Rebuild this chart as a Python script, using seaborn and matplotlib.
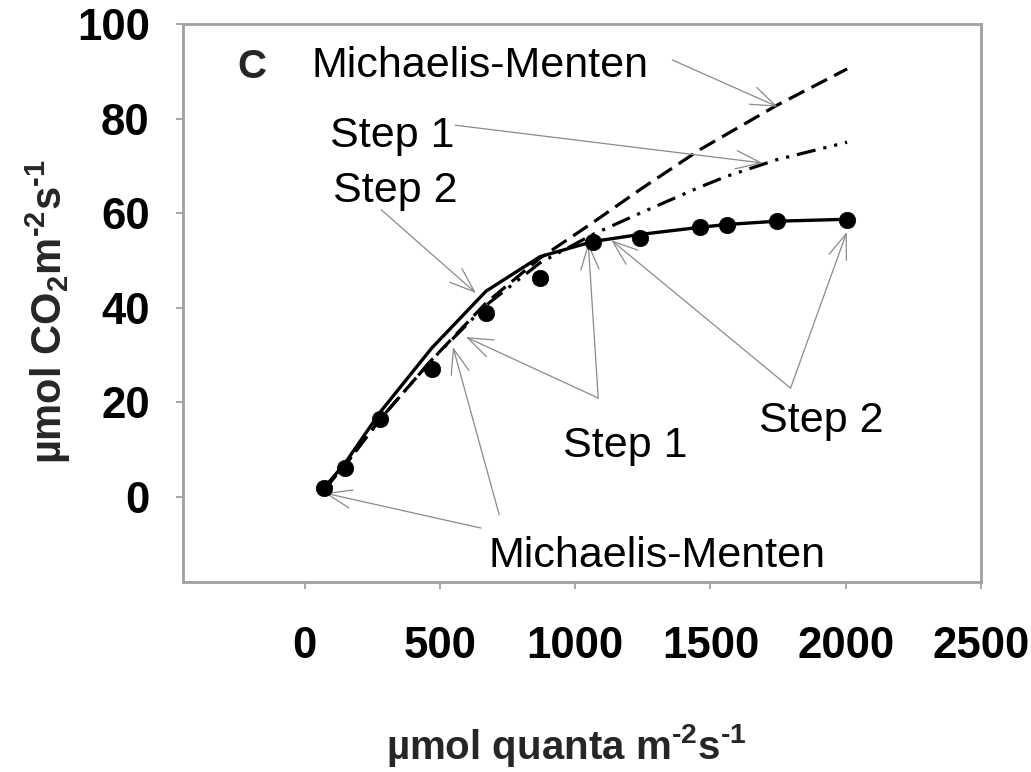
import matplotlib
matplotlib.use("Agg")
import matplotlib.pyplot as plt
import seaborn as sns
import pandas as pd

# ---- data ----
light = [70, 150, 280, 470, 670, 870, 1065, 1240, 1460, 1560, 1745, 2005]
observed = [1.8, 6.2, 16.4, 27.0, 38.9, 46.3, 53.8, 54.8, 57.1, 57.6, 58.3, 58.6]
michaelis_menten = [1.5, 6.8, 16.5, 29.0, 41.0, 50.5, 58.0, 65.0, 73.4, 76.7, 82.8, 90.5]
step1 = [1.5, 6.8, 16.5, 29.0, 40.5, 49.5, 55.5, 60.0, 65.5, 67.8, 71.3, 75.0]
step2 = [1.8, 7.2, 18.0, 31.5, 43.5, 50.8, 54.0, 55.5, 57.0, 57.6, 58.3, 58.7]

x_ticks = [0, 500, 1000, 1500, 2000, 2500]
y_ticks = [0, 20, 40, 60, 80, 100]

df = pd.DataFrame({"light": light, "obs": observed, "mm": michaelis_menten,
                   "s1": step1, "s2": step2})

sns.set_theme(style="ticks")
plt.rcParams["font.family"] = ["Liberation Sans", "DejaVu Sans"]
plt.rcParams["mathtext.fontset"] = "custom"
plt.rcParams["mathtext.rm"] = "Liberation Sans:bold"
plt.rcParams["mathtext.bf"] = "Liberation Sans:bold"
plt.rcParams["mathtext.default"] = "bf"

fig = plt.figure(figsize=(10.31, 7.72), dpi=100)
ax = fig.add_axes([183 / 1031, 1 - 582 / 772, (981 - 183) / 1031, (582 - 24) / 772])

sns.lineplot(data=df, x="light", y="mm", ax=ax, color="black", lw=2.3,
             linestyle=(0, (5.5, 2.5)), estimator=None, sort=True)
sns.lineplot(data=df, x="light", y="s1", ax=ax, color="black", lw=2.3,
             linestyle=(0, (6, 2.5, 1, 2.5, 1, 2.5)), estimator=None, sort=True)
sns.lineplot(data=df, x="light", y="s2", ax=ax, color="black", lw=2.4,
             estimator=None, sort=True)
sns.scatterplot(data=df, x="light", y="obs", ax=ax, color="black", s=140,
                edgecolor="black", linewidth=0.5, zorder=5)

ax.set_xlim(-450, 2500)
ax.set_ylim(-18, 100)
ax.set_xticks(x_ticks)
ax.set_yticks(y_ticks)
ax.set_xticklabels([str(t) for t in x_ticks], fontsize=31.5, fontweight="bold")
ax.set_yticklabels([str(t) for t in y_ticks], fontsize=31.5, fontweight="bold")
ax.tick_params(axis="both", direction="out", length=5, width=1.2, colors="#9a9a9a",
               labelcolor="black")
ax.tick_params(axis="y", pad=19)
ax.tick_params(axis="x", pad=27)
for sp in ax.spines.values():
    sp.set_visible(True)
    sp.set_color("#a0a0a0")
    sp.set_linewidth(2.0)

ax.set_xlabel(r"µmol quanta m$^{\text{-2}}$s$^{\text{-1}}$", fontsize=29, fontweight="bold")
ax.xaxis.set_label_coords((566 - 183) / 798, (582 - 722) / 558)
ax.set_ylabel(r"µmol CO$_{2}$m$^{\text{-2}}$s$^{\text{-1}}$", fontsize=30, fontweight="bold")
ax.yaxis.set_label_coords((73 - 183) / 798, (582 - 312) / 558)

# ---- annotations ----
txt_kw = dict(fontsize=31, color="black", ha="left", va="baseline")
ax.text(-196, 88.5, "C", fontsize=29, fontweight="bold", ha="center", va="baseline")
ax.text(26, 88.8, "Michaelis-Menten", **txt_kw)
ax.text(93, 74.0, "Step 1", **txt_kw)
ax.text(104, 62.4, "Step 2", **txt_kw)
ax.text(955, 8.5, "Step 1", **txt_kw)
ax.text(1681, 13.7, "Step 2", **txt_kw)
ax.text(681, -14.8, "Michaelis-Menten", **txt_kw)

arrow_kw = dict(arrowstyle="->,head_length=0.6,head_width=0.22", color="#8a8a8a", lw=0.9,
                shrinkA=0, shrinkB=0)
arrows = [
    ((1359, 92.4), (1748, 82.5)),
    ((556, 78.6), (1693, 70.6)),
    ((283, 60.7), (633, 43.1)),
    ((1085, 20.9), (596, 33.8)),
    ((1085, 20.9), (1048, 53.7)),
    ((1796, 23.0), (1133, 54.3)),
    ((1796, 23.0), (2004, 56.0)),
    ((652, -6.6), (74, 0.8)),
    ((719, -3.8), (548, 31.7)),
]
for start, end in arrows:
    ax.annotate("", xy=end, xytext=start, xycoords="data", textcoords="data",
                arrowprops=arrow_kw, fontsize=30)

fig.savefig("out.png", dpi=100)
